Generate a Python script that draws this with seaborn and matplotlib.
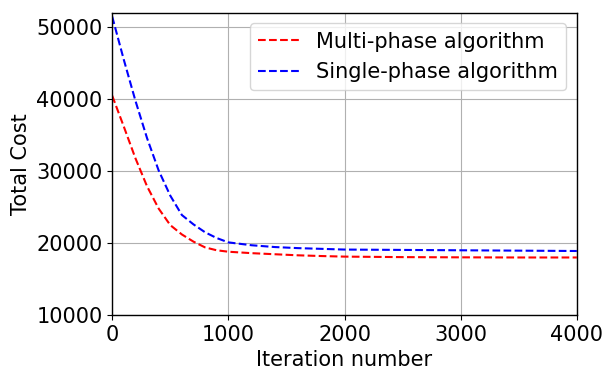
import pandas as pd
import seaborn as sns
import matplotlib
matplotlib.use("Agg")
import matplotlib.pyplot as plt

# iteration checkpoints and total cost
iterations = [0, 100, 200, 300, 400, 500, 600, 700, 800, 900, 1000,
              1200, 1400, 1600, 1800, 2000, 2500, 3000, 3500, 4000]
multi_phase = [40500, 36200, 31800, 27900, 24800, 22500, 21200, 20200, 19400, 19000, 18800,
               18600, 18450, 18300, 18200, 18120, 18050, 18020, 18000, 18000]
single_phase = [51500, 45500, 39800, 34600, 30100, 26600, 23900, 22600, 21500, 20700, 20100,
                19700, 19450, 19300, 19200, 19100, 19050, 19000, 18950, 18900]

df = pd.DataFrame({
    "iteration": iterations * 2,
    "cost": multi_phase + single_phase,
    "algo": ["Multi-phase algorithm"] * len(iterations) + ["Single-phase algorithm"] * len(iterations),
})

sns.set_style("white")
plt.rcParams["font.family"] = ["DejaVu Sans"]
plt.rcParams["text.color"] = "black"
plt.rcParams["axes.labelcolor"] = "black"
plt.rcParams["xtick.color"] = "black"
plt.rcParams["ytick.color"] = "black"

fig = plt.figure(figsize=(6.13, 3.80), dpi=100)
ax = fig.add_axes([0.183, 0.171, 0.758, 0.795])

sns.lineplot(data=df, x="iteration", y="cost", hue="algo",
             palette={"Multi-phase algorithm": "red", "Single-phase algorithm": "blue"},
             linestyle="--", linewidth=1.5, ax=ax)

ax.set_xlim(0, 4000)
ax.set_ylim(10000, 52000)
ax.set_xticks([0, 1000, 2000, 3000, 4000])
ax.set_yticks([10000, 20000, 30000, 40000, 50000])
ax.grid(True, color="#b0b0b0", linewidth=0.8)
ax.tick_params(labelsize=15, direction="out", length=3.5, width=0.8, left=True, bottom=True)
for s in ax.spines.values():
    s.set_color("black")
    s.set_linewidth(1.0)

ax.set_xlabel("Iteration number", fontsize=15)
ax.set_ylabel("Total Cost", fontsize=15)

leg = ax.legend(loc="upper right", fontsize=15, frameon=True, handlelength=2.0)
leg.get_frame().set_edgecolor("#cccccc")
for line in leg.get_lines():
    line.set_linestyle("--")
    line.set_linewidth(1.5)

fig.savefig("out.png", dpi=100)
